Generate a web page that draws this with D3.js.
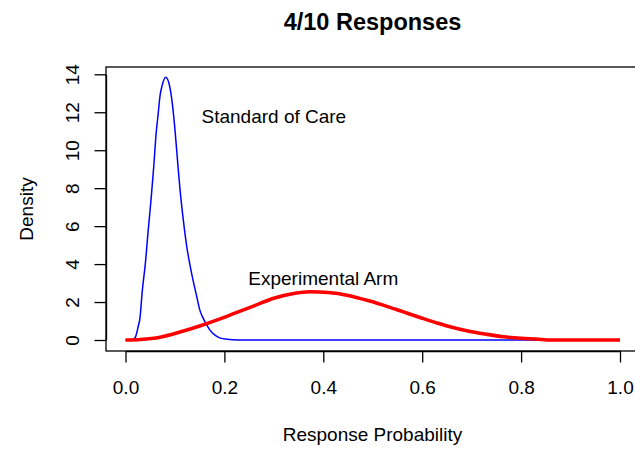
<!DOCTYPE html>
<html>
<head>
<meta charset="utf-8">
<script src="https://cdn.jsdelivr.net/npm/d3@7"></script>
<style>
  body { margin: 0; background: #fff; }
  text { font-family: "Liberation Sans", Arial, sans-serif; fill: #000; }
</style>
</head>
<body>
<div id="chart"></div>
<script>
// values (response probability, density)
var socX = [0, 0.015, 0.020, 0.026, 0.029, 0.034, 0.040, 0.046, 0.052, 0.057, 0.062, 0.066, 0.070, 0.074, 0.0815, 0.089, 0.094, 0.100, 0.106, 0.110, 0.117, 0.124, 0.130, 0.137, 0.144, 0.150, 0.157, 0.163, 0.170, 0.181, 0.192, 0.205, 0.228, 1.0];
var socY = [0, 0.02, 0.15, 0.75, 1.1, 2.6, 4.0, 5.8, 7.5, 9.1, 10.9, 11.9, 12.9, 13.4, 13.84, 13.4, 12.6, 11.1, 9.2, 8.0, 6.3, 4.9, 4.0, 3.1, 2.3, 1.6, 1.15, 0.85, 0.55, 0.26, 0.1, 0.04, 0, 0];

var expX = [0, 0.03, 0.07, 0.11, 0.15, 0.19, 0.22, 0.26, 0.30, 0.34, 0.373, 0.41, 0.45, 0.494, 0.53, 0.562, 0.60, 0.63, 0.66, 0.697, 0.73, 0.764, 0.80, 0.83, 0.862, 1.0];
var expY = [0, 0.03, 0.15, 0.42, 0.74, 1.1, 1.4, 1.8, 2.2, 2.45, 2.54, 2.5, 2.35, 2.05, 1.76, 1.48, 1.15, 0.9, 0.67, 0.45, 0.3, 0.17, 0.09, 0.05, 0, 0];

var xTicks = [0, 0.2, 0.4, 0.6, 0.8, 1.0];
var yTicks = [0, 2, 4, 6, 8, 10, 12, 14];

var W = 635, H = 449;
var svg = d3.select("#chart").append("svg").attr("width", W).attr("height", H);

var x = d3.scaleLinear().domain([0, 1]).range([125.5, 620]);
var y = d3.scaleLinear().domain([0, 14]).range([340, 74.3]);

var boxL = 106, boxT = 67, boxB = 351;

// plot box (right side runs off the picture)
svg.append("rect").attr("x", boxL).attr("y", boxT).attr("width", 545).attr("height", boxB - boxT)
  .attr("fill", "none").attr("stroke", "#000").attr("stroke-width", 1.3);

// x axis
var gx = svg.append("g").attr("transform", "translate(0," + boxB + ")")
  .call(d3.axisBottom(x).tickValues(xTicks).tickSize(11.5).tickSizeOuter(0).tickFormat(d3.format(".1f")));
gx.select(".domain").attr("stroke-width", 1.3);
gx.selectAll(".tick line").attr("stroke-width", 1.3);
gx.selectAll("text").attr("font-size", 19).attr("font-family", "Liberation Sans, Arial").attr("y", 30).attr("dy", "0.71em");

// y axis, labels rotated like base R
var gy = svg.append("g").attr("transform", "translate(" + boxL + ",0)")
  .call(d3.axisLeft(y).tickValues(yTicks).tickSize(11.5).tickSizeOuter(0));
gy.select(".domain").attr("stroke-width", 1.3);
gy.selectAll(".tick line").attr("stroke-width", 1.3);
gy.selectAll("text").attr("font-size", 19).attr("font-family", "Liberation Sans, Arial")
  .attr("x", 0).attr("dy", 0)
  .attr("text-anchor", "middle")
  .attr("transform", "translate(-27,0) rotate(-90)");

var line = d3.line().x(function(d) { return x(d[0]); }).y(function(d) { return y(d[1]); })
  .curve(d3.curveMonotoneX);

svg.append("path").datum(d3.zip(socX, socY)).attr("d", line)
  .attr("fill", "none").attr("stroke", "#0000ff").attr("stroke-width", 1.5);
svg.append("path").datum(d3.zip(expX, expY)).attr("d", line)
  .attr("fill", "none").attr("stroke", "#ff0000").attr("stroke-width", 3.6).attr("stroke-linejoin", "round");

// curve labels
svg.append("text").attr("x", x(0.3)).attr("y", y(11.76)).attr("dy", "0.35em")
  .attr("text-anchor", "middle").attr("font-size", 19).text("Standard of Care");
svg.append("text").attr("x", x(0.4)).attr("y", y(3.25)).attr("dy", "0.35em")
  .attr("text-anchor", "middle").attr("font-size", 19).text("Experimental Arm");

// titles
svg.append("text").attr("x", 372.5).attr("y", 30).attr("text-anchor", "middle")
  .attr("font-size", 23.5).attr("font-weight", "bold").text("4/10 Responses");
svg.append("text").attr("x", 372.5).attr("y", 441).attr("text-anchor", "middle")
  .attr("font-size", 19).text("Response Probability");
svg.append("text").attr("transform", "translate(33," + ((boxT + boxB) / 2) + ") rotate(-90)")
  .attr("text-anchor", "middle").attr("font-size", 19).text("Density");
</script>
</body>
</html>
